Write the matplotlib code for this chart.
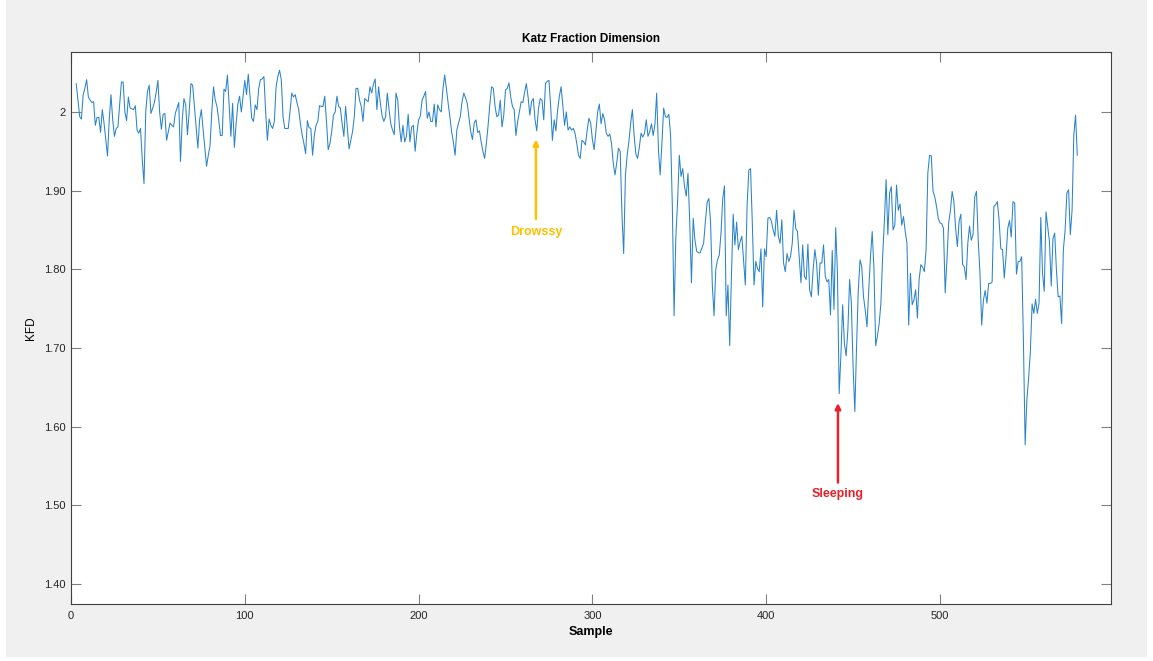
import numpy as np
import matplotlib
matplotlib.use("Agg")
import matplotlib.pyplot as plt
from matplotlib.patches import Rectangle

plt.rcParams['font.family'] = ['Liberation Sans', 'DejaVu Sans']

# KFD values, samples 3..579
kfd_a = [  # samples 3-101
    2.036, 2.015, 1.994, 1.991, 2.022, 2.030, 2.041, 2.019, 2.015, 2.012,
    2.013, 1.983, 1.993, 1.993, 1.974, 2.003, 1.986, 1.965, 1.944, 1.990,
    2.022, 1.990, 1.969, 1.979, 1.981, 2.010, 2.038, 2.038, 2.000, 1.989,
    2.019, 2.005, 2.004, 2.003, 2.008, 1.977, 1.973, 1.979, 1.940, 1.909,
    2.000, 2.026, 2.034, 1.998, 2.005, 2.012, 2.025, 2.040, 2.000, 1.978,
    1.997, 1.998, 1.964, 1.975, 1.986, 1.983, 1.981, 1.998, 2.005, 2.012,
    1.937, 1.990, 2.017, 2.009, 1.971, 2.000, 2.036, 2.034, 2.007, 1.980,
    1.954, 1.990, 2.003, 1.978, 1.955, 1.931, 1.945, 1.957, 2.000, 2.032,
    2.015, 2.007, 1.990, 1.970, 1.970, 2.029, 2.026, 2.047, 2.007, 1.969,
    2.011, 1.955, 1.985, 2.010, 2.020, 2.000, 2.020, 2.040, 2.022,
]
kfd_b = [  # samples 102-200
    2.048, 2.020, 1.992, 1.988, 2.009, 2.003, 2.030, 2.041, 2.042, 2.045,
    2.000, 1.964, 1.991, 1.983, 1.979, 1.988, 2.032, 2.045, 2.053, 2.041,
    1.994, 1.979, 1.979, 1.979, 2.000, 2.024, 2.019, 2.022, 2.012, 2.003,
    1.985, 1.971, 1.960, 1.947, 1.989, 1.980, 1.979, 1.945, 1.970, 1.983,
    1.988, 2.008, 2.007, 2.007, 2.020, 1.988, 1.952, 1.960, 1.975, 1.996,
    2.000, 2.020, 2.007, 2.005, 1.985, 1.969, 2.007, 1.980, 1.953, 1.964,
    1.975, 1.994, 2.030, 2.030, 2.015, 2.007, 1.988, 2.017, 2.015, 2.013,
    2.032, 2.024, 2.035, 2.042, 2.003, 2.032, 2.011, 1.995, 1.988, 1.994,
    2.024, 2.003, 1.985, 1.977, 1.971, 2.024, 2.015, 1.981, 1.962, 1.983,
    1.962, 1.969, 1.997, 1.962, 1.981, 1.983, 1.950, 1.973, 1.990,
]
kfd_c = [  # samples 201-298
    1.995, 2.015, 2.020, 2.026, 1.992, 2.000, 1.988, 1.988, 2.010, 1.981,
    2.009, 2.003, 2.000, 2.029, 2.047, 2.030, 2.011, 1.994, 1.975, 1.962,
    1.945, 1.977, 1.986, 1.994, 2.013, 2.024, 2.018, 2.011, 1.992, 1.975,
    1.965, 1.986, 1.990, 1.974, 1.976, 1.962, 1.950, 1.941, 1.960, 1.983,
    2.010, 2.032, 2.030, 2.007, 1.994, 1.996, 2.015, 1.981, 1.996, 2.028,
    2.030, 2.037, 2.019, 2.007, 2.003, 1.970, 1.988, 2.000, 2.013, 2.012,
    2.025, 2.036, 2.019, 1.996, 2.013, 2.017, 1.990, 1.976, 2.005, 2.017,
    2.015, 1.990, 2.036, 2.039, 2.040, 2.007, 1.964, 1.990, 1.976, 2.003,
    2.020, 2.032, 2.007, 1.983, 2.000, 1.977, 1.981, 1.977, 1.979, 1.973,
    1.960, 1.945, 1.941, 1.964, 1.962, 1.958, 1.977, 1.992,
]
kfd_d = [  # samples 299-396
    1.986, 1.965, 1.952, 1.975, 2.000, 2.010, 1.985, 1.998, 1.990, 1.973,
    1.969, 1.972, 1.960, 1.935, 1.920, 1.935, 1.954, 1.950, 1.870, 1.820,
    1.919, 1.945, 1.962, 1.985, 2.003, 1.970, 1.947, 1.941, 1.955, 1.973,
    1.968, 1.973, 1.990, 1.969, 1.975, 1.985, 1.970, 1.985, 2.024, 1.952,
    1.920, 1.960, 2.005, 1.994, 1.993, 1.997, 1.970, 1.880, 1.741, 1.840,
    1.885, 1.945, 1.918, 1.928, 1.905, 1.893, 1.922, 1.860, 1.783, 1.865,
    1.837, 1.823, 1.821, 1.821, 1.827, 1.833, 1.860, 1.885, 1.890, 1.860,
    1.780, 1.741, 1.800, 1.812, 1.818, 1.846, 1.890, 1.906, 1.741, 1.780,
    1.703, 1.791, 1.870, 1.831, 1.860, 1.825, 1.835, 1.842, 1.810, 1.780,
    1.880, 1.926, 1.928, 1.860, 1.780, 1.810, 1.801, 1.797,
]
kfd_e = [  # samples 397-493
    1.826, 1.752, 1.826, 1.816, 1.865, 1.866, 1.861, 1.850, 1.842, 1.875,
    1.842, 1.833, 1.863, 1.808, 1.797, 1.820, 1.810, 1.816, 1.833, 1.875,
    1.852, 1.848, 1.816, 1.783, 1.831, 1.791, 1.787, 1.832, 1.774, 1.765,
    1.799, 1.825, 1.808, 1.767, 1.808, 1.808, 1.831, 1.791, 1.784, 1.787,
    1.742, 1.824, 1.749, 1.853, 1.795, 1.642, 1.691, 1.755, 1.706, 1.690,
    1.723, 1.787, 1.757, 1.676, 1.619, 1.702, 1.774, 1.812, 1.803, 1.765,
    1.748, 1.727, 1.774, 1.816, 1.848, 1.801, 1.703, 1.715, 1.731, 1.757,
    1.816, 1.861, 1.914, 1.844, 1.897, 1.905, 1.850, 1.856, 1.907, 1.875,
    1.883, 1.856, 1.867, 1.848, 1.833, 1.729, 1.795, 1.755, 1.761, 1.774,
    1.738, 1.787, 1.806, 1.803, 1.797, 1.825, 1.922,
]
kfd_f = [  # samples 494-579
    1.945, 1.944, 1.899, 1.892, 1.880, 1.865, 1.859, 1.858, 1.852, 1.770,
    1.812, 1.859, 1.875, 1.899, 1.886, 1.852, 1.829, 1.861, 1.870, 1.806,
    1.803, 1.787, 1.833, 1.855, 1.837, 1.844, 1.892, 1.899, 1.837, 1.795,
    1.729, 1.761, 1.773, 1.757, 1.782, 1.782, 1.784, 1.880, 1.882, 1.886,
    1.863, 1.826, 1.825, 1.789, 1.816, 1.852, 1.862, 1.841, 1.886, 1.884,
    1.794, 1.810, 1.810, 1.816, 1.710, 1.577, 1.634, 1.662, 1.695, 1.756,
    1.744, 1.762, 1.744, 1.757, 1.866, 1.795, 1.772, 1.873, 1.854, 1.835,
    1.779, 1.839, 1.846, 1.799, 1.765, 1.766, 1.731, 1.825, 1.850, 1.897,
    1.901, 1.844, 1.875, 1.971, 1.996, 1.945,
]
kfd = kfd_a + kfd_b + kfd_c + kfd_d + kfd_e + kfd_f
samples = np.arange(3, 3 + len(kfd))

y_ticks = [1.4, 1.5, 1.6, 1.7, 1.8, 1.9, 2.0]
y_ticklabels = ['1.40', '1.50', '1.60', '1.70', '1.80', '1.90', '2']
x_ticks = [0, 100, 200, 300, 400, 500]

fig = plt.figure(figsize=(11.53, 6.61), dpi=100, facecolor='white')
# grey figure panel like the MATLAB window
fig.patches.append(Rectangle((6 / 1153, 4 / 661), 1141 / 1153, 657 / 661,
                             transform=fig.transFigure, facecolor='#f0f0f0',
                             edgecolor='none', zorder=-10))
ax = fig.add_axes([71 / 1153, 1 - 604 / 661, 1040 / 1153, 552 / 661])
ax.set_facecolor('white')

ax.plot(samples, kfd, color='#2a84c8', linewidth=0.75)

ax.set_xlim(0, 598.4)
ax.set_ylim(1.3746, 2.0762)
ax.set_xticks(x_ticks)
ax.set_yticks(y_ticks)
ax.set_yticklabels(y_ticklabels)
ax.tick_params(direction='in', length=7, width=0.8, color='#808080',
               labelcolor='#262626', labelsize=8, top=True, right=True)
ax.tick_params(axis='y', pad=4)
ax.tick_params(axis='x', pad=5)
for s in ax.spines.values():
    s.set_color('#404040')
    s.set_linewidth(0.8)

ax.set_title('Katz Fraction Dimension', fontsize=8.5, fontweight='bold', pad=7)
ax.set_xlabel('Sample', fontsize=9, fontweight='bold', labelpad=4)
ax.set_ylabel('KFD', fontsize=8.5, labelpad=5)

# annotations
ax.annotate('', xy=(267.5, 1.965), xytext=(267.5, 1.864),
            arrowprops=dict(arrowstyle='-|>', color='#FFC000', lw=1.8,
                            mutation_scale=8, shrinkA=0, shrinkB=0))
ax.text(267.5, 1.848, 'Drowssy', color='#FFC000', fontsize=9, fontweight='bold',
        ha='center', va='center')
ax.annotate('', xy=(441.3, 1.630), xytext=(441.3, 1.529),
            arrowprops=dict(arrowstyle='-|>', color='#E8202A', lw=1.8,
                            mutation_scale=8, shrinkA=0, shrinkB=0))
ax.text(441.3, 1.514, 'Sleeping', color='#E8202A', fontsize=9, fontweight='bold',
        ha='center', va='center')

fig.savefig('out.png', dpi=100, facecolor=fig.get_facecolor())
